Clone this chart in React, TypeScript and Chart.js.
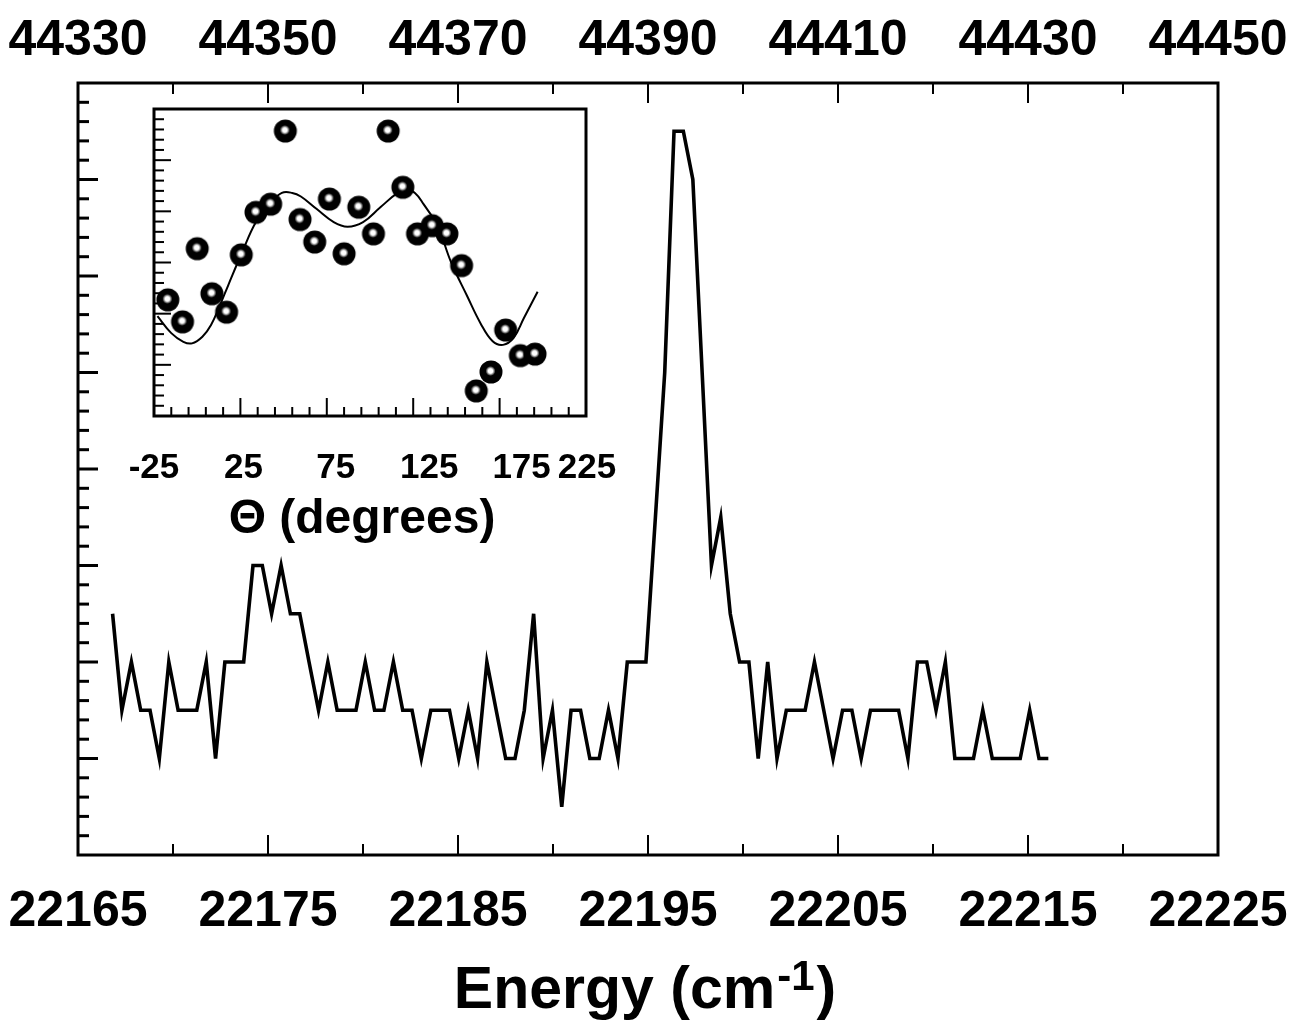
import { useEffect, useRef } from "react";
import { Chart, registerables } from "chart.js";

Chart.register(...registerables);

// ---------------- Main spectrum data ----------------
const energies = [
  22166.82, 22167.31, 22167.81, 22168.3, 22168.79, 22169.28, 22169.78, 22170.27, 22170.76, 22171.25,
  22171.75, 22172.24, 22172.73, 22173.22, 22173.72, 22174.21, 22174.7, 22175.19, 22175.69, 22176.18,
  22176.67, 22177.16, 22177.66, 22178.15, 22178.64, 22179.13, 22179.63, 22180.12, 22180.61, 22181.1,
  22181.6, 22182.09, 22182.58, 22183.07, 22183.57, 22184.06, 22184.55, 22185.04, 22185.54, 22186.03,
  22186.52, 22187.01, 22187.51, 22188.0, 22188.49, 22188.98, 22189.48, 22189.97, 22190.46, 22190.95,
  22191.45, 22191.94, 22192.43, 22192.92, 22193.42, 22193.91, 22194.4, 22194.89, 22195.39, 22195.88,
  22196.37, 22196.86, 22197.36, 22197.85, 22198.34, 22198.83, 22199.33, 22199.82, 22200.31, 22200.8,
  22201.3, 22201.79, 22202.28, 22202.77, 22203.27, 22203.76, 22204.25, 22204.74, 22205.24, 22205.73,
  22206.22, 22206.71, 22207.21, 22207.7, 22208.19, 22208.68, 22209.18, 22209.67, 22210.16, 22210.65,
  22211.15, 22211.64, 22212.13, 22212.62, 22213.12, 22213.61, 22214.1, 22214.59, 22215.09, 22215.58,
  22216.07,
];
const counts = [
  5, 3, 4, 3, 3, 2, 4, 3, 3, 3,
  4, 2, 4, 4, 4, 6, 6, 5, 6, 5,
  5, 4, 3, 4, 3, 3, 3, 4, 3, 3,
  4, 3, 3, 2, 3, 3, 3, 2, 3, 2,
  4, 3, 2, 2, 3, 5, 2, 3, 1, 3,
  3, 2, 2, 3, 2, 4, 4, 4, 7, 10,
  15, 15, 14, 10, 6, 7, 5, 4, 4, 2,
  4, 2, 3, 3, 3, 4, 3, 2, 3, 3,
  2, 3, 3, 3, 3, 2, 4, 4, 3, 4,
  2, 2, 2, 3, 2, 2, 2, 2, 3, 2,
  2,
];
const bottomTickLabels = [22165, 22175, 22185, 22195, 22205, 22215, 22225];
const topTickLabels = [44330, 44350, 44370, 44390, 44410, 44430, 44450];

// ---------------- Inset data ----------------
const thetaDeg = [
  -17, -8.5, 0, 8.5, 17, 25.5, 34, 42.5, 51, 59.5, 68, 76.5, 85,
  93.5, 102, 110.5, 119, 127.5, 136, 144.5, 153, 161.5, 170, 178.5, 187, 195.5,
];
const thetaSignal = [
  2.27, 1.84, 3.27, 2.39, 2.03, 3.15, 3.98, 4.14, 5.57, 3.84, 3.4, 4.24, 3.17,
  4.08, 3.56, 5.57, 4.47, 3.56, 3.72, 3.56, 2.94, 0.49, 0.86, 1.68, 1.18, 1.21,
];
const fitDeg = [
  -23, -15, -8, -3, 3, 8, 13, 18, 26, 34, 42, 49, 55, 60, 69, 79, 87, 96,
  106, 116, 121, 126, 131, 139, 147, 156, 164, 171, 177, 183, 189, 197,
];
const fitSignal = [
  1.95, 1.62, 1.45, 1.42, 1.55, 1.78, 2.15, 2.56, 3.2, 3.79, 4.15, 4.36, 4.36, 4.29, 4.05, 3.79, 3.7, 3.79,
  4.08, 4.36, 4.42, 4.36, 4.14, 3.72, 3.0, 2.36, 1.81, 1.46, 1.39, 1.52, 1.91, 2.43,
];
const insetTickLabels = [-25, 25, 75, 125, 175, 225];
// small horizontal nudges of the inset tick texts, as set in the original figure
const insetLabelNudge = [0, 3, 9, 16, 22, 1];

const W = 1292;
const H = 1029;
const FONT = '"Liberation Sans", Arial, Helvetica, sans-serif';

function line(ctx: CanvasRenderingContext2D, x1: number, y1: number, x2: number, y2: number) {
  ctx.beginPath();
  ctx.moveTo(x1, y1);
  ctx.lineTo(x2, y2);
  ctx.stroke();
}

const mainDecor = {
  id: "mainDecor",
  afterDraw(chart: any) {
    const ctx: CanvasRenderingContext2D = chart.ctx;
    const { left, right, top, bottom } = chart.chartArea;
    const xs = chart.scales.x;
    const xt = chart.scales.xTop;
    const ys = chart.scales.y;
    ctx.save();
    ctx.strokeStyle = "#000";
    ctx.fillStyle = "#000";
    ctx.lineWidth = 3;
    ctx.strokeRect(left, top, right - left, bottom - top);
    ctx.lineWidth = 2;
    for (let v = xs.min + 5; v < xs.max; v += 5) {
      const px = xs.getPixelForValue(v);
      const len = bottomTickLabels.includes(v) ? 20 : 11;
      line(ctx, px, bottom, px, bottom - len);
    }
    for (let v = xt.min + 10; v < xt.max; v += 10) {
      const px = xt.getPixelForValue(v);
      const len = topTickLabels.includes(v) ? 20 : 11;
      line(ctx, px, top, px, top + len);
    }
    ctx.lineWidth = 3;
    for (let i = 1; i < 40; i++) {
      const py = ys.getPixelForValue(i * 0.4);
      const len = i % 5 === 0 ? 20 : 11;
      line(ctx, left, py, left + len, py);
    }
    ctx.font = `bold 50px ${FONT}`;
    ctx.textAlign = "center";
    ctx.textBaseline = "alphabetic";
    bottomTickLabels.forEach((v) => ctx.fillText(String(v), xs.getPixelForValue(v), 926));
    topTickLabels.forEach((v) => ctx.fillText(String(v), xt.getPixelForValue(v), 55));

    const mainFont = `bold 59px ${FONT}`;
    const supFont = `bold 42px ${FONT}`;
    ctx.font = mainFont;
    const w1 = ctx.measureText("Energy (cm").width;
    const w3 = ctx.measureText(")").width;
    ctx.font = supFont;
    const w2 = ctx.measureText("-1").width;
    const total = w1 + w2 + w3 + 4;
    let x = (left + right) / 2 - 3 - total / 2;
    ctx.textAlign = "left";
    ctx.font = mainFont;
    ctx.fillText("Energy (cm", x, 1008);
    x += w1 + 2;
    ctx.font = supFont;
    ctx.fillText("-1", x, 990);
    x += w2 + 2;
    ctx.font = mainFont;
    ctx.fillText(")", x, 1008);
    ctx.restore();
  },
};

const insetDecor = {
  id: "insetDecor",
  afterDraw(chart: any) {
    const ctx: CanvasRenderingContext2D = chart.ctx;
    const { left, right, top, bottom } = chart.chartArea;
    const xs = chart.scales.x;
    const ys = chart.scales.y;
    ctx.save();
    ctx.strokeStyle = "#000";
    ctx.fillStyle = "#000";
    ctx.lineWidth = 3;
    ctx.strokeRect(left, top, right - left, bottom - top);
    ctx.lineWidth = 2;
    for (let v = xs.min + 10; v < xs.max; v += 10) {
      const px = xs.getPixelForValue(v);
      const len = insetTickLabels.includes(v) ? 18 : 9;
      line(ctx, px, bottom, px, bottom - len);
    }
    for (let i = 1; i < 30; i++) {
      const py = ys.getPixelForValue(i * 0.2);
      const len = i % 5 === 0 ? 17 : 10;
      line(ctx, left, py, left + len, py);
    }
    ctx.font = `bold 35px ${FONT}`;
    ctx.textAlign = "center";
    ctx.textBaseline = "alphabetic";
    insetTickLabels.forEach((v, i) =>
      ctx.fillText(String(v), xs.getPixelForValue(v) + insetLabelNudge[i], 478)
    );
    ctx.font = `bold 48px ${FONT}`;
    ctx.fillText("\u0398 (degrees)", (left + right) / 2 - 8, 533);
    ctx.restore();
  },
};

function makeMarker(): HTMLCanvasElement {
  const m = document.createElement("canvas");
  m.width = 26;
  m.height = 26;
  const c = m.getContext("2d")!;
  c.fillStyle = "#000";
  c.beginPath();
  c.arc(13, 13, 11.5, 0, Math.PI * 2);
  c.fill();
  const g = c.createRadialGradient(12.5, 12, 0, 12.5, 12, 5);
  g.addColorStop(0, "#fff");
  g.addColorStop(0.45, "#fff");
  g.addColorStop(1, "rgba(255,255,255,0)");
  c.fillStyle = g;
  c.beginPath();
  c.arc(12.5, 12, 5, 0, Math.PI * 2);
  c.fill();
  return m;
}

export default function App() {
  const mainRef = useRef<HTMLCanvasElement>(null);
  const insetRef = useRef<HTMLCanvasElement>(null);

  useEffect(() => {
    const mainChart = new Chart(mainRef.current!, {
      type: "line",
      data: {
        datasets: [
          {
            data: energies.map((e, i) => ({ x: e, y: counts[i] })),
            borderColor: "#000",
            borderWidth: 3.6,
            borderJoinStyle: "miter",
            pointRadius: 0,
            tension: 0,
            fill: false,
          },
        ],
      },
      options: {
        responsive: false,
        animation: false,
        events: [],
        layout: { padding: { left: 78, right: 74, top: 83, bottom: 174 } },
        plugins: { legend: { display: false }, tooltip: { enabled: false } },
        scales: {
          x: { type: "linear", min: 22165, max: 22225, display: false },
          xTop: { type: "linear", position: "top", min: 44330, max: 44450, display: false },
          y: { type: "linear", min: 0, max: 16, display: false },
        },
      },
      plugins: [mainDecor],
    });

    const marker = makeMarker();
    const insetChart = new Chart(insetRef.current!, {
      type: "line",
      data: {
        datasets: [
          {
            type: "scatter",
            data: thetaDeg.map((d, i) => ({ x: d, y: thetaSignal[i] })),
            pointStyle: marker as any,
            pointRadius: 12,
            showLine: false,
            order: 0,
          } as any,
          {
            type: "line",
            data: fitDeg.map((d, i) => ({ x: d, y: fitSignal[i] })),
            borderColor: "#000",
            borderWidth: 2,
            pointRadius: 0,
            tension: 0.4,
            fill: false,
            order: 1,
          },
        ],
      },
      options: {
        responsive: false,
        animation: false,
        events: [],
        layout: { padding: { left: 154, right: W - 586, top: 109, bottom: H - 416 } },
        plugins: { legend: { display: false }, tooltip: { enabled: false } },
        scales: {
          x: { type: "linear", min: -25, max: 225, display: false },
          y: { type: "linear", min: 0, max: 6, display: false },
        },
      },
      plugins: [insetDecor],
    });

    return () => {
      mainChart.destroy();
      insetChart.destroy();
    };
  }, []);

  return (
    <div style={{ position: "absolute", left: 0, top: 0, width: W, height: H, background: "#fff" }}>
      <canvas ref={mainRef} width={W} height={H} style={{ position: "absolute", left: 0, top: 0 }} />
      <canvas ref={insetRef} width={W} height={H} style={{ position: "absolute", left: 0, top: 0 }} />
    </div>
  );
}
